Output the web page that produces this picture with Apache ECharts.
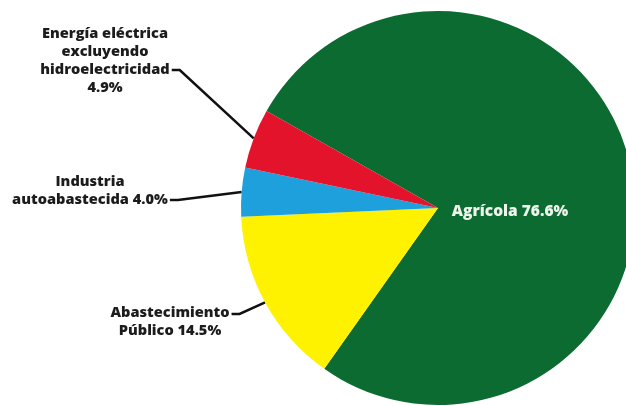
<!DOCTYPE html>
<html>
<head>
<meta charset="utf-8">
<script src="https://cdn.jsdelivr.net/npm/echarts@6/dist/echarts.min.js"></script>
<style>
html,body{margin:0;padding:0;background:#fff;}
#c{width:626px;height:406px;}
</style>
</head>
<body>
<div id="c"></div>
<script>
// Data
const categories = ['Agrícola', 'Abastecimiento\nPúblico', 'Industria\nautoabastecida', 'Energía eléctrica\nexcluyendo\nhidroelectricidad'];
const values = [76.6, 14.5, 4.0, 4.9];
const valueSeparators = [' ', ' ', ' ', '\n'];

// Styles / layout (not data)
const colors = ['#0b6b31', '#fff200', '#1ea0dc', '#e3132b'];
const labelPlace = [
  { x: 510, y: 212, lead: null },
  { x: 170, y: 322, lead: 'top' },
  { x: 90, y: 191, lead: 'bottom' },
  { x: 105, y: 61, lead: 'third' }
];

const chart = echarts.init(document.getElementById('c'), null, { renderer: 'canvas' });

const seriesData = categories.map((name, i) => ({
  name: name,
  value: values[i],
  itemStyle: { color: colors[i] },
  label: i === 0
    ? { position: 'inside', color: '#eef3ec', fontSize: 15.5 }
    : { position: 'outside', color: '#1c1c1c', fontSize: 14.6, lineHeight: 18, align: 'center' },
  labelLine: { show: i !== 0, lineStyle: { color: '#111', width: 2.5 } }
}));

chart.setOption({
  backgroundColor: '#ffffff',
  animation: false,
  series: [{
    type: 'pie',
    center: [438, 208],
    radius: 197,
    startAngle: 150.5,
    clockwise: true,
    avoidLabelOverlap: false,
    label: {
      show: true,
      fontFamily: 'Open Sans',
      fontWeight: 800,
      fontSize: 15,
      formatter: p => p.name + valueSeparators[p.dataIndex] + p.value.toFixed(1) + '%'
    },
    labelLine: { show: true, length: 20, length2: 10, smooth: false },
    emphasis: { disabled: true },
    data: seriesData,
    labelLayout: function (params) {
      const pl = labelPlace[params.dataIndex];
      const res = { x: pl.x, y: pl.y, align: 'center', verticalAlign: 'middle' };
      if (pl.lead && params.labelLinePoints) {
        const w = params.labelRect.width;
        let ey = pl.y;
        if (pl.lead === 'top') ey = pl.y - 8;
        if (pl.lead === 'bottom') ey = pl.y + 9;
        if (pl.lead === 'third') ey = pl.y + 9;
        const ex = pl.x + w / 2 + 2;
        const anchor = params.labelLinePoints[0];
        res.labelLinePoints = [anchor, [ex + 8, ey], [ex, ey]];
      }
      return res;
    }
  }]
});
</script>
</body>
</html>
